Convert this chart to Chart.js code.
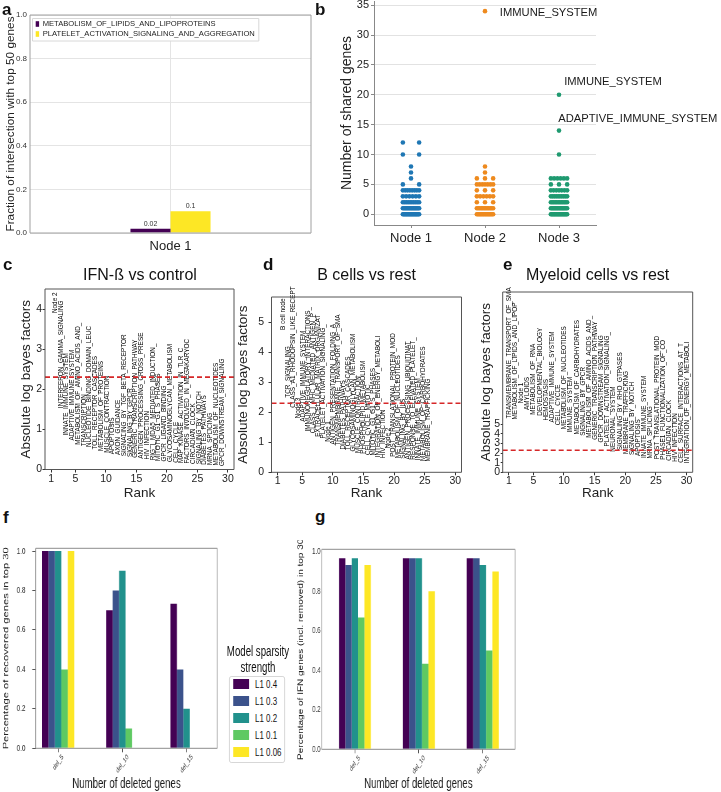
<!DOCTYPE html>
<html><head><meta charset="utf-8">
<script src="https://cdn.jsdelivr.net/npm/chart.js@4.4.1/dist/chart.umd.min.js"></script>
<style>
html,body{margin:0;padding:0;background:#fff;}
body{position:relative;width:721px;height:792px;overflow:hidden;font-family:'Liberation Sans',Arial,sans-serif;color:#111;}
.t{position:absolute;white-space:nowrap;line-height:1;}
#root,#squeeze{position:absolute;left:0;top:0;height:792px;}
#root{width:721px;}
#squeeze{width:1045px;transform:scaleX(0.69);transform-origin:0 0;}
</style></head>
<body>
<div id="root"></div>
<div id="squeeze"></div>
<script>
// ================= DATA =================
// ---- panel a ----
const aCategories = ['Node 1'];
const aSeries = ['METABOLISM_OF_LIPIDS_AND_LIPOPROTEINS', 'PLATELET_ACTIVATION_SIGNALING_AND_AGGREGATION'];
const aLipidsValues = [0.02];
const aPlateletValues = [0.1];
const aYTicks = [0, 0.2, 0.4, 0.6, 0.8, 1.0];

// ---- panel b (number of shared genes per pathway, counts of pathways at each value) ----
const bNodes = ['Node 1', 'Node 2', 'Node 3'];
const bNode1Values = [0, 1, 2, 3, 4, 5, 6, 7, 8, 10, 12];
const bNode1Counts = [18, 15, 10, 6, 8, 2, 1, 1, 1, 2, 2];
const bNode2Values = [0, 1, 2, 3, 4, 5, 6, 7, 8, 34];
const bNode2Counts = [15, 12, 3, 6, 3, 7, 3, 1, 1, 1];
const bNode3Values = [0, 1, 2, 3, 4, 5, 6, 10, 14, 20];
const bNode3Counts = [18, 15, 12, 10, 7, 3, 6, 1, 1, 1];
const bYTicks = [0, 5, 10, 15, 20, 25, 30, 35];
const bAnnotTexts = ['IMMUNE_SYSTEM', 'IMMUNE_SYSTEM', 'ADAPTIVE_IMMUNE_SYSTEM'];
const bAnnotX = [1.2, 2.07, 1.99];
const bAnnotY = [33.7, 22.2, 15.9];

// ---- panels c, d, e (ranked pathways / nodes, absolute log bayes factors) ----
const rankTicks = [1, 5, 10, 15, 20, 25, 30];
const cLabels = ['Node 2','INTERFERON_GAMMA_SIGNALING','INNATE_IMMUNE_SYSTEM','ADAPTIVE_IMMUNE_SYSTEM','METABOLISM_OF_AMINO_ACIDS_AND_','TRANSCRIPTION','NUCLEOTIDE_BINDING_DOMAIN_LEUC','TOLL_RECEPTOR_CASCADES','METABOLISM_OF_PROTEINS','MUSCLE_CONTRACTION','APOPTOSIS','AXON_GUIDANCE','SIGNALING_BY_TGF_BETA_RECEPTOR','SIGNALING_BY_GPCR','GENERIC_TRANSCRIPTION_PATHWAY','ANTIGEN_PROCESSING_CROSS_PRESE','HIV_INFECTION','RIG_I_MDA5_MEDIATED_INDUCTION_','MITOTIC_G1_G1_S_PHASES','GPCR_LIGAND_BINDING','GLYCOSAMINOGLYCAN_METABOLISM','CELL_CYCLE','MAP_KINASE_ACTIVATION_IN_TLR_C','FACTORS_INVOLVED_IN_MEGAKARYOC','CIRCADIAN_CLOCK','SIGNALING_BY_NOTCH','DIABETES_PATHWAYS','MRNA_SPLICING','METABOLISM_OF_NUCLEOTIDES','GPCR_DOWNSTREAM_SIGNALING'];
const cValues = [3.9, 1.53, 0.85, 0.72, 0.62, 0.58, 0.56, 0.5, 0.46, 0.42, 0.38, 0.36, 0.33, 0.31, 0.29, 0.27, 0.25, 0.23, 0.21, 0.2, 0.19, 0.17, 0.16, 0.15, 0.14, 0.13, 0.12, 0.11, 0.1, 0.09];
const dLabels = ['B cell node','TCR_SIGNALING','CLASS_A1_RHODOPSIN_LIKE_RECEPT','Node 3','ADAPTIVE_IMMUNE_SYSTEM','IMMUNOREGULATORY_INTERACTIONS_','CLASS_I_MHC_MEDIATED_ANTIGEN_P','EXTRACELLULAR_MATRIX_ORGANIZAT','PLATELET_ACTIVATION_SIGNALING_','Node 1','ANTIGEN_PRESENTATION_FOLDING_A','TRANSMEMBRANE_TRANSPORT_OF_SMA','DIABETES_PATHWAYS','TOLL_RECEPTOR_CASCADES','GLYCOSAMINOGLYCAN_METABOLISM','MUSCLE_CONTRACTION','PHOSPHOLIPID_METABOLISM','CELL_CYCLE_MITOTIC','MITOTIC_G1_G1_S_PHASES','INTEGRATION_OF_ENERGY_METABOLI','HIV_INFECTION','Node 2','POST_TRANSLATIONAL_PROTEIN_MOD','METABOLISM_OF_NUCLEOTIDES','SIGNALING_BY_ILS','ANTIGEN_PROCESSING_UBIQUITINAT','RESPONSE_TO_ELEVATED_PLATELET_','INNATE_IMMUNE_SYSTEM','METABOLISM_OF_CARBOHYDRATES','MEMBRANE_TRAFFICKING'];
const dValues = [4.75, 2.49, 2.15, 1.8, 1.69, 1.36, 1.3, 1.19, 1.13, 1.02, 0.93, 0.89, 0.76, 0.74, 0.69, 0.64, 0.62, 0.58, 0.56, 0.5, 0.47, 0.8, 0.52, 0.47, 0.45, 0.43, 0.42, 0.4, 0.38, 0.36];
const eLabels = ['TRANSMEMBRANE_TRANSPORT_OF_SMA','METABOLISM_OF_LIPIDS_AND_LIPOP','Node 1','AMYLOIDS','METABOLISM_OF_RNA','DEVELOPMENTAL_BIOLOGY','HEMOSTASIS','ADAPTIVE_IMMUNE_SYSTEM','CELL_CYCLE','METABOLISM_OF_NUCLEOTIDES','IMMUNE_SYSTEM','METABOLISM_OF_CARBOHYDRATES','SIGNALING_BY_GPCR','METABOLISM_OF_AMINO_ACIDS_AND_','GENERIC_TRANSCRIPTION_PATHWAY','GPCR_DOWNSTREAM_SIGNALING','PLATELET_ACTIVATION_SIGNALING_','NEURONAL_SYSTEM','SIGNALING_BY_RHO_GTPASES','MEMBRANE_TRAFFICKING','SIGNALING_BY_NOTCH','APOPTOSIS','INNATE_IMMUNE_SYSTEM','MRNA_SPLICING','POST_TRANSLATIONAL_PROTEIN_MOD','PHASE1_FUNCTIONALIZATION_OF_CO','CIRCADIAN_CLOCK','HIV_INFECTION','CELL_SURFACE_INTERACTIONS_AT_T','INTEGRATION_OF_ENERGY_METABOLI'];
const eValues = [5.6, 5.5, 7.2, 6.5, 6.0, 5.9, 5.4, 5.2, 4.9, 4.5, 4.15, 3.95, 3.8, 3.6, 3.4, 3.1, 2.7, 2.15, 2.3, 1.9, 1.8, 1.7, 1.5, 1.45, 1.35, 1.3, 1.2, 1.1, 1.0, 0.95];
const bayesThreshold = Math.log(10);

// ---- panels f, g ----
const fgGroups = ['del_5', 'del_10', 'del_15'];
const sparsityLabels = ['L1 0.4', 'L1 0.3', 'L1 0.2', 'L1 0.1', 'L1 0.06'];
const fL1_04 = [1.0, 0.70, 0.733];
const fL1_03 = [1.0, 0.80, 0.40];
const fL1_02 = [1.0, 0.90, 0.20];
const fL1_01 = [0.40, 0.10, 0.0];
const fL1_006 = [1.0, 0.0, 0.0];
const gL1_04 = [0.967, 0.967, 0.967];
const gL1_03 = [0.933, 0.967, 0.967];
const gL1_02 = [0.967, 0.967, 0.933];
const gL1_01 = [0.667, 0.433, 0.50];
const gL1_006 = [0.933, 0.80, 0.90];
const fgYTicks = [0, 0.2, 0.4, 0.6, 0.8, 1.0];

// ================= STYLE =================
const FONT = "'Liberation Sans', Arial, sans-serif";
const viridis5 = ['#440154', '#3b528b', '#21918c', '#5ec962', '#fde725'];
const bColors = ['#1f77b4', '#ee8a1e', '#1f9a70'];

Chart.defaults.font.family = FONT;
Chart.defaults.color = '#222';
Chart.defaults.animation = false;
Chart.defaults.responsive = false;
Chart.defaults.maintainAspectRatio = false;
Chart.defaults.plugins.legend.display = false;
Chart.defaults.plugins.tooltip.enabled = false;
Chart.defaults.events = [];

const root = document.getElementById('root');
const squeeze = document.getElementById('squeeze');

function framePlugin(color, sides) {
  return {id: 'frame', afterDatasetsDraw(chart) {
    const ctx = chart.ctx, a = chart.chartArea;
    ctx.save(); ctx.strokeStyle = color; ctx.lineWidth = 1; ctx.beginPath();
    if (sides.includes('t')) { ctx.moveTo(a.left, a.top); ctx.lineTo(a.right, a.top); }
    if (sides.includes('b')) { ctx.moveTo(a.left, a.bottom); ctx.lineTo(a.right, a.bottom); }
    if (sides.includes('l')) { ctx.moveTo(a.left, a.top); ctx.lineTo(a.left, a.bottom); }
    if (sides.includes('r')) { ctx.moveTo(a.right, a.top); ctx.lineTo(a.right, a.bottom); }
    ctx.stroke(); ctx.restore();
  }};
}

function build(parent, box, area, type, data, options, plugins) {
  const cv = document.createElement('canvas');
  Object.assign(cv.style, {position: 'absolute', left: box.x + 'px', top: box.y + 'px', width: box.w + 'px', height: box.h + 'px'});
  cv.width = box.w; cv.height = box.h;
  parent.appendChild(cv);
  const padL = area.l - box.x, padT = area.t - box.y;
  const padR = box.x + box.w - area.r, padB = box.y + box.h - area.b;
  options.layout = {autoPadding: false, padding: {left: 0, top: padT, right: padR, bottom: 0}};
  options.scales.x.afterFit = s => { s.height = padB; s.paddingLeft = 0; s.paddingRight = 0; s.paddingTop = 0; s.paddingBottom = 0; };
  options.scales.y.afterFit = s => { s.width = padL; s.paddingTop = 0; s.paddingBottom = 0; s.paddingLeft = 0; s.paddingRight = 0; };
  return new Chart(cv, {type, data, options, plugins: plugins || []});
}

function addText(parent, text, x, baseline, size, opts) {
  opts = opts || {};
  const d = document.createElement('div');
  d.className = 't';
  d.textContent = text;
  d.style.fontSize = size + 'px';
  if (opts.bold) d.style.fontWeight = 'bold';
  d.style.top = (baseline - 0.8465 * size) + 'px';
  if (opts.center) { d.style.left = (x - 200) + 'px'; d.style.width = '400px'; d.style.textAlign = 'center'; }
  else d.style.left = x + 'px';
  parent.appendChild(d);
  return d;
}

// ================= PANEL A =================
const aExtras = {id: 'aExtras', afterDatasetsDraw(chart) {
  const ctx = chart.ctx, a = chart.chartArea;
  ctx.save();
  ctx.font = '7px ' + FONT; ctx.fillStyle = '#333'; ctx.textAlign = 'center'; ctx.textBaseline = 'bottom';
  chart.data.datasets.forEach((ds, i) => {
    chart.getDatasetMeta(i).data.forEach((el, j) => ctx.fillText(String(ds.data[j]), el.x, el.y - 1.5));
  });
  ctx.font = '7.6px ' + FONT;
  const tw = Math.max(...chart.data.datasets.map(d => ctx.measureText(d.label).width));
  const bx = a.left + 2.5, by = a.top + 3.5, bw = 10.2 + tw + 4, bh = 22.5;
  ctx.fillStyle = 'rgba(255,255,255,0.9)'; ctx.strokeStyle = '#d8d8d8'; ctx.lineWidth = 1;
  ctx.beginPath(); ctx.rect(bx, by, bw, bh); ctx.fill(); ctx.stroke();
  chart.data.datasets.forEach((d, i) => {
    const cy = by + 5.5 + i * 10;
    ctx.fillStyle = d.backgroundColor; ctx.fillRect(bx + 3.2, cy - 2.8, 3.4, 5.6);
    ctx.fillStyle = '#222'; ctx.textAlign = 'left'; ctx.textBaseline = 'middle';
    ctx.fillText(d.label, bx + 10.2, cy + 0.3);
  });
  ctx.restore();
}};

build(root, {x: 0, y: 0, w: 318, h: 258}, {l: 30, t: 15, r: 311, b: 233}, 'bar', {
  labels: aCategories,
  datasets: [
    {label: aSeries[0], data: aLipidsValues, backgroundColor: viridis5[0], categoryPercentage: 0.285, barPercentage: 1, borderWidth: 0},
    {label: aSeries[1], data: aPlateletValues, backgroundColor: viridis5[4], categoryPercentage: 0.285, barPercentage: 1, borderWidth: 0}
  ]
}, {
  scales: {
    x: {grid: {offset: false, color: '#e4e4e4', drawTicks: false}, border: {display: false},
        ticks: {font: {size: 13}, padding: 5.2, color: '#222'}},
    y: {min: 0, max: 1, afterBuildTicks: s => { s.ticks = aYTicks.map(v => ({value: v})); },
        ticks: {font: {size: 8}, padding: 3, color: '#333', callback: v => v.toFixed(1)},
        grid: {color: '#e4e4e4', drawTicks: false}, border: {display: false},
        title: {display: true, text: 'Fraction of intersection with top 50 genes', font: {size: 11.8}, color: '#222', padding: {top: 3.9, bottom: 0}}}
  }
}, [framePlugin('#a0a0a0', 'ltrb'), aExtras]);

// ================= PANEL B =================
const JW = 0.11;
function stripPoints(nodeIdx, values, counts) {
  const pts = [];
  values.forEach((v, i) => {
    const n = counts[i];
    for (let k = 0; k < n; k++) {
      const off = n === 1 ? 0 : -JW + 2 * JW * k / (n - 1);
      pts.push({x: nodeIdx + off, y: v});
    }
  });
  return pts;
}
const bData = [[bNode1Values, bNode1Counts], [bNode2Values, bNode2Counts], [bNode3Values, bNode3Counts]];
const bAnnot = {id: 'bAnnot', afterDatasetsDraw(chart) {
  const ctx = chart.ctx, xs = chart.scales.x, ys = chart.scales.y;
  ctx.save(); ctx.font = '11.2px ' + FONT; ctx.fillStyle = '#1a1a1a'; ctx.textAlign = 'left'; ctx.textBaseline = 'middle';
  bAnnotTexts.forEach((t, i) => ctx.fillText(t, xs.getPixelForValue(bAnnotX[i]), ys.getPixelForValue(bAnnotY[i])));
  ctx.restore();
}};
build(root, {x: 328, y: 0, w: 393, h: 252}, {l: 374, t: 1, r: 596, b: 225}, 'scatter', {
  datasets: bData.map((d, i) => ({data: stripPoints(i, d[0], d[1]), backgroundColor: bColors[i], borderWidth: 0, pointRadius: 2.3, clip: false}))
}, {
  scales: {
    x: {type: 'linear', min: -0.5, max: 2.5, afterBuildTicks: s => { s.ticks = bNodes.map((_, i) => ({value: i})); },
        ticks: {callback: v => bNodes[v], font: {size: 13}, padding: 2.2, autoSkip: false, maxRotation: 0, color: '#222'},
        grid: {drawOnChartArea: false, tickLength: 3, tickColor: '#888'}, border: {display: true, color: '#888'}},
    y: {min: -1.8, max: 35.7, afterBuildTicks: s => { s.ticks = bYTicks.map(v => ({value: v})); },
        ticks: {font: {size: 11}, padding: 2, autoSkip: false, color: '#222'},
        grid: {color: '#e2e2e2', tickLength: 3, tickColor: '#888'}, border: {display: true, color: '#888'},
        title: {display: true, text: 'Number of shared genes', font: {size: 14}, color: '#222', padding: {top: 10.6, bottom: 0}}}
  }
}, [bAnnot]);

// ================= PANELS C, D, E =================
function rankPanel(box, area, labels, values, ymax, yTickMax, lay) {
  const pts = values.map((v, i) => ({x: i + 1, y: v}));
  const labelPlugin = {id: 'rankLabels', beforeDatasetsDraw(chart) {
    const ctx = chart.ctx, xs = chart.scales.x;
    const meta = chart.getDatasetMeta(0);
    ctx.save(); ctx.font = '6.4px ' + FONT; ctx.fillStyle = '#000'; ctx.textAlign = 'left'; ctx.textBaseline = 'middle';
    meta.data.forEach((el, i) => {
      const px = xs.getPixelForValue(lay.x0 + (pts[i].x - 1) * lay.step);
      ctx.save(); ctx.translate(px, el.y); ctx.rotate(-Math.PI / 2); ctx.fillText(labels[i], 0, 0); ctx.restore();
    });
    ctx.restore();
  }};
  const yt = []; for (let v = 0; v <= yTickMax; v++) yt.push({value: v});
  return build(root, box, area, 'scatter', {datasets: [
    {data: pts, pointRadius: 0, pointHoverRadius: 0, showLine: false},
    {type: 'line', data: [{x: 0, y: bayesThreshold}, {x: 31, y: bayesThreshold}], borderColor: '#d62728', borderWidth: 1.6, borderDash: [5, 3], pointRadius: 0, fill: false}
  ]}, {
    scales: {
      x: {type: 'linear', min: 0, max: 31, afterBuildTicks: s => { s.ticks = rankTicks.map(v => ({value: v})); },
          ticks: {font: {size: 10.5}, padding: lay.xpad, autoSkip: false, maxRotation: 0, color: '#222'},
          grid: {drawOnChartArea: false, tickLength: 3, tickColor: '#333'}, border: {display: false},
          title: {display: true, text: 'Rank', font: {size: 13.5}, color: '#222', padding: {top: 0, bottom: 0}}},
      y: {min: 0, max: ymax, afterBuildTicks: s => { s.ticks = yt; },
          ticks: {font: {size: 10.5}, padding: lay.ypad, autoSkip: false, color: '#222'},
          grid: {drawOnChartArea: false, tickLength: lay.ytl, tickColor: '#333'}, border: {display: false},
          title: {display: true, text: 'Absolute log bayes factors', font: {size: 13.5}, color: '#222', padding: {top: lay.ytitle, bottom: 0}}}
    }
  }, [labelPlugin, framePlugin('#555', 'ltrb')]);
}
rankPanel({x: 0, y: 284, w: 240, h: 217}, {l: 45, t: 289, r: 234, b: 469.5}, cLabels, cValues, 4.5, 4,
  {x0: 1.64, step: 0.944, xpad: 0.2, ypad: 0.5, ytl: 2.5, ytitle: 17.9});
rankPanel({x: 232, y: 284, w: 234, h: 217}, {l: 271.5, t: 297, r: 461.5, b: 472.3}, dLabels, dValues, 5.85, 5,
  {x0: 1.88, step: 0.815, xpad: 0, ypad: 4.5, ytl: 3, ytitle: 2.9});
rankPanel({x: 474, y: 284, w: 247, h: 217}, {l: 502.7, t: 292, r: 692.7, b: 472.3}, eLabels, eValues, 18.8, 5,
  {x0: 1.03, step: 1.005, xpad: 0, ypad: 0.7, ytl: 2, ytitle: 3.9});

// ================= PANELS F, G =================
const rotLabels = {id: 'rotLabels', afterDraw(chart) {
  const xs = chart.scales.x, ctx = chart.ctx;
  ctx.save(); ctx.font = '7.5px ' + FONT; ctx.fillStyle = '#333';
  xs.ticks.forEach(t => {
    const lab = fgGroups[t.value];
    const w = ctx.measureText(lab).width, h = 7.5;
    const bb = (w + h) * Math.SQRT1_2;
    const cx = xs.getPixelForValue(t.value), cy = chart.chartArea.bottom + 5 + bb / 2;
    ctx.save(); ctx.translate(cx, cy); ctx.rotate(-Math.PI / 4);
    ctx.textAlign = 'center'; ctx.textBaseline = 'middle'; ctx.fillText(lab, 0, 0); ctx.restore();
  });
  ctx.restore();
}};
function barPanel(box, area, xmin, xmax, ymax, series, yTitle, yTitleSize, yTitlePad, ytl, ypad) {
  const datasets = series.map((vals, k) => ({
    label: sparsityLabels[k], data: vals.map((v, i) => ({x: i, y: v})),
    backgroundColor: viridis5[k], borderWidth: 0, categoryPercentage: 0.5, barPercentage: 1
  }));
  return build(squeeze, box, area, 'bar', {datasets}, {
    scales: {
      x: {type: 'linear', offset: false, min: xmin, max: xmax,
          afterBuildTicks: s => { s.ticks = fgGroups.map((_, i) => ({value: i})); },
          ticks: {display: false}, grid: {offset: false, drawOnChartArea: false, tickLength: 4, tickColor: '#555'}, border: {display: false},
          title: {display: true, text: 'Number of deleted genes', font: {size: 14}, color: '#222', padding: {top: 0, bottom: 2.6}}},
      y: {min: 0, max: ymax, afterBuildTicks: s => { s.ticks = fgYTicks.map(v => ({value: v})); },
          ticks: {font: {size: 9}, color: '#333', padding: ypad, callback: v => v.toFixed(1), autoSkip: false},
          grid: {drawOnChartArea: false, drawTicks: ytl > 0, tickLength: ytl, tickColor: '#555'}, border: {display: false},
          title: {display: true, text: yTitle, font: {size: yTitleSize}, color: '#222', padding: {top: yTitlePad, bottom: 0}}}
    }
  }, [framePlugin('#8c8c8c', 'ltrb'), rotLabels]);
}
barPanel({x: 0, y: 540, w: 326, h: 255}, {l: 51.7, t: 548.3, r: 314.9, b: 748.3}, -0.35, 2.48, 1.014,
  [fL1_04, fL1_03, fL1_02, fL1_01, fL1_006], 'Percentage of recovered genes in top 30', 11.2, 2.0, 5, 10);
barPanel({x: 420, y: 540, w: 335, h: 255}, {l: 466.2, t: 549.3, r: 746.4, b: 749.3}, -0.52, 2.505, 1.012,
  [gL1_04, gL1_03, gL1_02, gL1_01, gL1_006], 'Percentage of IFN genes (incl. removed) in top 30', 10, 10.2, 0, 1.5);

// legend shared by f and g (in squeezed coordinates)
(function () {
  const title = document.createElement('div');
  title.className = 't';
  Object.assign(title.style, {left: '323.9px', width: '100px', top: '643px', fontSize: '14px', lineHeight: '16px', textAlign: 'center', color: '#111'});
  title.innerHTML = 'Model sparsity<br>strength';
  squeeze.appendChild(title);
  const boxd = document.createElement('div');
  Object.assign(boxd.style, {position: 'absolute', left: '331.9px', top: '675.7px', width: '81.1px', height: '87.3px', boxSizing: 'border-box', border: '1px solid #d0d0d0', borderRadius: '3px', background: '#fff'});
  squeeze.appendChild(boxd);
  sparsityLabels.forEach((lab, i) => {
    const cy = 684.3 + 17 * i;
    const p = document.createElement('div');
    Object.assign(p.style, {position: 'absolute', left: '337.7px', top: (cy - 5) + 'px', width: '23.2px', height: '10px', background: viridis5[i]});
    squeeze.appendChild(p);
    const t = document.createElement('div');
    t.className = 't'; t.textContent = lab;
    Object.assign(t.style, {left: '369.6px', top: (cy - 5.6) + 'px', fontSize: '11.5px', color: '#111'});
    squeeze.appendChild(t);
  });
})();

// ================= PANEL LETTERS & TITLES =================
addText(root, 'a', 2, 15, 17, {bold: true});
addText(root, 'b', 315, 15, 17, {bold: true});
addText(root, 'c', 3, 270, 17, {bold: true});
addText(root, 'd', 263, 270, 17, {bold: true});
addText(root, 'e', 503, 270, 17, {bold: true});
addText(root, 'f', 3, 523, 17, {bold: true});
addText(root, 'g', 315, 522, 17, {bold: true});
addText(root, 'IFN-ß vs control', 140, 281, 16, {center: true});
addText(root, 'B cells vs rest', 366.5, 281, 16, {center: true});
addText(root, 'Myeloid cells vs rest', 597.7, 281, 16, {center: true});
</script>
</body></html>
